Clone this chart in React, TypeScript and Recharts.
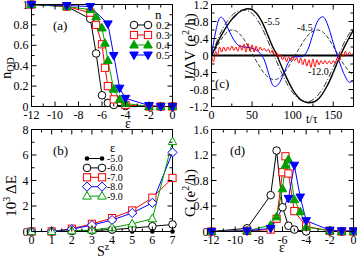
import React from "react";
import { LineChart, Line, XAxis, YAxis, ReferenceLine } from "recharts";

const SERIF = "'Liberation Serif', 'Times New Roman', serif";
const RED = "#ff0000";
const GREEN = "#00a000";
const BLUE = "#0000ff";

// ---- panels (a) and (d): x = epsilon ----
const blackEps = [-12, -9, -7, -6.5, -6, -5.5, -5, -4, -2, -1, 0];
const blackOcc = [1, 0.98, 0.86, 0.52, 0.11, 0.035, 0.015, 0.005, 0, 0, 0];
const blackG = [0, 0.05, 0.57, 1.27, 0.38, 0.09, 0.03, 0, 0, 0, 0];

const redEps = [-12, -9, -7, -6.5, -6, -5.75, -5.5, -5, -4, -2, -1, 0];
const redOcc = [1, 0.98, 0.92, 0.8, 0.61, 0.38, 0.2, 0.07, 0.015, 0, 0, 0];
const redG = [0, 0.01, 0.03, 0.2, 0.93, 1.18, 0.91, 0.32, 0.08, 0.01, 0, 0];

const greenEps = [-12, -9, -7, -6.5, -6, -5.75, -5.5, -5, -4.5, -4, -2, -1, 0];
const greenOcc = [1, 0.98, 0.95, 0.88, 0.77, 0.62, 0.45, 0.17, 0.07, 0.03, 0, 0, 0];
const greenG = [0, 0.01, 0.1, 0.23, 0.67, 1.04, 1.13, 0.5, 0.31, 0.07, 0.01, 0, 0];

const blueEps = [-12, -9, -7, -5.5, -5, -4.5, -4, -2, -1, 0];
const blueOcc = [1, 0.99, 0.98, 0.81, 0.5, 0.18, 0.08, 0.01, 0, 0];
const blueG = [0, 0.01, 0.05, 0.52, 1.04, 0.54, 0.17, 0.02, 0.01, 0.01];

const fillings = ["0.2", "0.3", "0.4", "0.5"];

// ---- panel (b): 10^3 dE vs S^z ----
const sz = [0, 1, 2, 3, 4, 5, 6, 7];
const dE50 = [0, 0, 0, 0, 0, 0, 0, 0];
const dE60 = [0, 0, 0.03, 0.08, 0.15, 0.26, 0.41, 0.55];
const dE70 = [0, 0, 0.22, 0.6, 1.05, 1.65, 2.65, 4.2];
const dE80 = [0, 0, 0.18, 0.5, 0.9, 1.45, 2.25, 6.2];
const dE90 = [0, 0, 0.05, 0.12, 0.3, 0.6, 1.0, 7.05];
const levels = ["-5.0", "-6.0", "-7.0", "-8.0", "-9.0"];

// ---- panel (c): J/dV vs t/tau ----
const cTime = [0, 5, 10, 15, 20, 25, 30, 35, 40, 45, 50, 55, 60, 65, 70, 75, 80, 85, 90, 95, 100, 105, 110, 115, 120, 125, 130, 135, 140, 145, 150, 155, 160, 165, 170, 175];
const cSolid = [0, 0.2, 0.4, 0.57, 0.72, 0.85, 0.95, 1.03, 1.08, 1.1, 1.08, 1.0, 0.87, 0.68, 0.45, 0.22, 0.03, -0.2, -0.42, -0.62, -0.8, -0.94, -1.04, -1.09, -1.11, -1.1, -1.05, -0.95, -0.8, -0.62, -0.4, -0.17, 0.05, 0.25, 0.43, 0.6];
const cDashDot = [0, 0.25, 0.48, 0.67, 0.82, 0.94, 1.02, 1.06, 1.07, 1.05, 0.99, 0.88, 0.73, 0.54, 0.32, 0.1, -0.13, -0.35, -0.55, -0.73, -0.87, -0.98, -1.05, -1.08, -1.08, -1.04, -0.96, -0.84, -0.68, -0.49, -0.28, -0.06, 0.16, 0.36, 0.52, 0.66];
const cDashed = [0, 0.15, 0.32, 0.46, 0.56, 0.6, 0.58, 0.5, 0.38, 0.22, 0.05, -0.12, -0.28, -0.42, -0.51, -0.56, -0.56, -0.5, -0.4, -0.26, -0.1, 0.07, 0.23, 0.38, 0.5, 0.57, 0.6, 0.58, 0.5, 0.38, 0.22, 0.05, -0.12, -0.26, -0.38, -0.45];

const blueTime = [0, 5, 10, 12, 15, 20, 25, 30, 35, 40, 45, 50, 55, 60, 65, 70, 75, 78, 80, 85, 90, 95, 100, 105, 110, 115, 120, 125, 130, 135, 137, 140, 145, 150, 155, 160, 165, 170, 175];
const blueJ = [0, 0.55, 0.88, 0.9, 0.85, 0.65, 0.45, 0.3, 0.22, 0.2, 0.19, 0.17, 0.13, 0.05, -0.1, -0.4, -0.68, -0.73, -0.72, -0.6, -0.38, -0.15, -0.04, -0.03, -0.03, 0.02, 0.2, 0.5, 0.78, 0.9, 0.91, 0.86, 0.62, 0.3, 0, -0.28, -0.5, -0.63, -0.58];

const redTime = [0, 2.5, 5, 7.5, 10, 12.5, 15, 17.5, 20, 22.5, 25, 27.5, 30, 32.5, 35, 37.5, 40, 42.5, 45, 47.5, 50, 52.5, 55, 57.5, 60, 62.5, 65, 67.5, 70, 72.5, 75, 77.5, 80, 82.5, 85, 87.5, 90, 92.5, 95, 97.5, 100, 102.5, 105, 107.5, 110, 112.5, 115, 117.5, 120, 122.5, 125, 127.5, 130, 132.5, 135, 137.5, 140, 142.5, 145, 147.5, 150, 152.5, 155, 157.5, 160, 162.5, 165, 167.5, 170, 172.5, 175];
const redJ = [0, -0.15, 0.1, 0, 0.2, 0.08, 0.2, 0.1, 0.2, 0.12, 0.22, 0.12, 0.2, 0.1, 0.25, 0.12, 0.27, 0.08, 0.28, 0.1, 0.25, 0.08, 0.22, 0.1, 0.2, 0.12, 0.17, 0.1, 0.15, 0.06, 0.12, 0.02, 0.08, -0.05, 0.02, -0.1, -0.02, -0.15, -0.03, -0.12, -0.02, -0.12, -0.05, -0.18, -0.06, -0.22, -0.08, -0.25, -0.1, -0.28, -0.08, -0.27, -0.1, -0.22, -0.12, -0.2, -0.12, -0.2, -0.13, -0.2, -0.12, -0.18, -0.05, -0.12, 0.05, -0.02, 0.1, 0, 0.08, 0.02, 0.06];

const rows = (xs: number[], ys: number[]) => xs.map((x, i) => ({ x, y: ys[i] }));

type Box = { l: number; r: number; t: number; b: number };
const W = 357;
const H = 259;
const boxA: Box = { l: 31.5, r: 172.5, t: 4.5, b: 106.5 };
const boxC: Box = { l: 211.5, r: 353.5, t: 4.5, b: 106.5 };
const boxB: Box = { l: 31.5, r: 172.5, t: 129.5, b: 231.5 };
const boxD: Box = { l: 211.5, r: 353.5, t: 129.5, b: 231.5 };

function Mark({ cx, cy, shape, color }: { cx: number; cy: number; shape: string; color: string }) {
  if (cx == null || cy == null) return null;
  if (shape === "circle") return <circle cx={cx} cy={cy} r={3.8} fill="#fff" stroke={color} />;
  if (shape === "dot") return <circle cx={cx} cy={cy} r={2.3} fill={color} />;
  if (shape === "square")
    return <rect x={cx - 3.6} y={cy - 3.6} width={7.2} height={7.2} fill="#fff" stroke={color} />;
  if (shape === "diamond")
    return (
      <polygon
        points={`${cx},${cy - 4.6} ${cx + 4.6},${cy} ${cx},${cy + 4.6} ${cx - 4.6},${cy}`}
        fill="#fff"
        stroke={color}
      />
    );
  if (shape === "down")
    return (
      <polygon points={`${cx},${cy + 4.6} ${cx + 4.3},${cy - 3} ${cx - 4.3},${cy - 3}`} fill={color} stroke={color} />
    );
  const open = shape === "upOpen";
  return (
    <polygon
      points={`${cx},${cy - 4.6} ${cx + 4.3},${cy + 3} ${cx - 4.3},${cy + 3}`}
      fill={open ? "#fff" : color}
      stroke={color}
    />
  );
}

const dotOf = (shape: string, color: string) => (p: any) =>
  <Mark key={p.index} cx={p.cx} cy={p.cy} shape={shape} color={color} />;

function tickFn(side: string, major: number[]) {
  return (p: any) => {
    const v = p.payload.value;
    const isMajor = major.includes(v);
    const len = isMajor ? 5 : 3;
    const { x, y } = p;
    if (side === "bottom")
      return (
        <g>
          <line x1={x} x2={x} y1={y} y2={y - len} stroke="#000" />
          {isMajor && (
            <text x={x} y={y + 12.5} textAnchor="middle" fontSize={12} fontFamily={SERIF} fill="#000">
              {String(v)}
            </text>
          )}
        </g>
      );
    if (side === "top") return <line x1={x} x2={x} y1={y} y2={y + len} stroke="#000" />;
    if (side === "left")
      return (
        <g>
          <line x1={x} x2={x + len} y1={y} y2={y} stroke="#000" />
          {isMajor && (
            <text x={x - 3} y={y + 4} textAnchor="end" fontSize={12} fontFamily={SERIF} fill="#000">
              {String(v)}
            </text>
          )}
        </g>
      );
    return <line x1={x} x2={x - len} y1={y} y2={y} stroke="#000" />;
  };
}

// axes have a 1px box (a zero-sized axis is not drawn)
function frame(xDom: number[], xMajor: number[], xMinor: number[], yDom: number[], yMajor: number[], yMinor: number[]) {
  const xt = [...xMajor, ...xMinor];
  const yt = [...yMajor, ...yMinor];
  const common = { type: "number" as const, interval: 0, tickSize: 0, tickMargin: 0, tickLine: false, axisLine: { stroke: "#000" } };
  return [
    <XAxis key="xb" {...common} dataKey="x" domain={xDom} ticks={xt} height={1} tick={tickFn("bottom", xMajor)} />,
    <XAxis key="xt" {...common} xAxisId="top" orientation="top" dataKey="x" domain={xDom} allowDataOverflow ticks={xt} height={1} tick={tickFn("top", xMajor)} />,
    <YAxis key="yl" {...common} domain={yDom} ticks={yt} width={1} tick={tickFn("left", yMajor)} />,
    <YAxis key="yr" {...common} yAxisId="right" orientation="right" domain={yDom} allowDataOverflow ticks={yt} width={1} tick={tickFn("right", yMajor)} />,
  ];
}

function Chart({ box, children }: { box: Box; children: React.ReactNode }) {
  return (
    <div style={{ position: "absolute", left: 0, top: 0 }}>
      <LineChart
        width={W}
        height={H}
        margin={{ left: box.l - 1, top: box.t - 1, right: W - box.r - 1, bottom: H - box.b - 1 }}
      >
        {children}
      </LineChart>
    </div>
  );
}

const epsMajor = [-12, -10, -8, -6, -4, -2, 0];
const epsMinor = [-11, -9, -7, -5, -3, -1];

function line(key: string, data: { x: number; y: number }[], color: string, shape: string) {
  return (
    <Line
      key={key}
      data={data}
      dataKey="y"
      type="linear"
      stroke={color}
      strokeWidth={1}
      dot={dotOf(shape, color)}
      activeDot={false}
      isAnimationActive={false}
    />
  );
}

export default function App() {
  const cRows = cTime.map((x, i) => ({ x, s: cSolid[i], dd: cDashDot[i], ds: cDashed[i] }));
  const legendA = [
    { c: "#000", s: "circle" },
    { c: RED, s: "square" },
    { c: GREEN, s: "up" },
    { c: BLUE, s: "down" },
  ];
  const legendB = [
    { c: "#000", s: "dot" },
    { c: "#000", s: "circle" },
    { c: RED, s: "square" },
    { c: BLUE, s: "diamond" },
    { c: GREEN, s: "upOpen" },
  ];
  return (
    <div style={{ position: "absolute", left: 0, top: 0, width: W, height: H, background: "#fff", fontFamily: SERIF }}>
      {/* (a) */}
      <Chart box={boxA}>
        {frame([-12, 0], epsMajor, epsMinor, [0, 1], [0, 0.2, 0.4, 0.6, 0.8, 1], [0.1, 0.3, 0.5, 0.7, 0.9])}
        {line("a0", rows(blackEps, blackOcc), "#000", "circle")}
        {line("a1", rows(redEps, redOcc), RED, "square")}
        {line("a2", rows(greenEps, greenOcc), GREEN, "up")}
        {line("a3", rows(blueEps, blueOcc), BLUE, "down")}
      </Chart>

      {/* (c) */}
      <Chart box={boxC}>
        {frame([0, 175], [0, 50, 100, 150], [25, 75, 125, 175], [-1.2, 1.2], [-1.2, -0.8, -0.4, 0, 0.4, 0.8, 1.2], [-1, -0.6, -0.2, 0.2, 0.6, 1])}
        <ReferenceLine y={0} stroke="#000" strokeWidth={2} />
        <Line data={cRows} dataKey="ds" type="monotone" stroke="#333" strokeWidth={1} strokeDasharray="4 2" dot={false} activeDot={false} isAnimationActive={false} />
        <Line data={cRows} dataKey="dd" type="monotone" stroke="#333" strokeWidth={1} strokeDasharray="6 2 1 2" dot={false} activeDot={false} isAnimationActive={false} />
        <Line data={cRows} dataKey="s" type="monotone" stroke="#000" strokeWidth={1.4} dot={false} activeDot={false} isAnimationActive={false} />
        <Line data={rows(blueTime, blueJ)} dataKey="y" type="monotone" stroke={BLUE} strokeWidth={1} dot={false} activeDot={false} isAnimationActive={false} />
        <Line data={rows(redTime, redJ)} dataKey="y" type="monotone" stroke={RED} strokeWidth={1} dot={false} activeDot={false} isAnimationActive={false} />
      </Chart>

      {/* (b) */}
      <Chart box={boxB}>
        {frame([0, 7], sz, [0.5, 1.5, 2.5, 3.5, 4.5, 5.5, 6.5], [0, 8], [0, 2, 4, 6, 8], [1, 3, 5, 7])}
        {line("b0", rows(sz, dE50), "#000", "dot")}
        {line("b1", rows(sz, dE60), "#000", "circle")}
        {line("b2", rows(sz, dE70), RED, "square")}
        {line("b3", rows(sz, dE80), BLUE, "diamond")}
        {line("b4", rows(sz, dE90), GREEN, "upOpen")}
      </Chart>

      {/* (d) */}
      <Chart box={boxD}>
        {frame([-12, 0], epsMajor, epsMinor, [0, 1.6], [0, 0.4, 0.8, 1.2, 1.6], [0.2, 0.6, 1, 1.4])}
        {line("d0", rows(blackEps, blackG), "#000", "circle")}
        {line("d1", rows(redEps, redG), RED, "square")}
        {line("d2", rows(greenEps, greenG), GREEN, "up")}
        {line("d3", rows(blueEps, blueG), BLUE, "down")}
      </Chart>

      <svg width={W} height={H} style={{ position: "absolute", left: 0, top: 0, pointerEvents: "none" }} fontFamily={SERIF} fill="#000">
        <text x={53} y={30} fontSize={13}>(a)</text>
        <text x={53} y={155} fontSize={13}>(b)</text>
        <text x={215} y={88} fontSize={13}>(c)</text>
        <text x={230} y={155} fontSize={13}>(d)</text>

        {/* legend (a) */}
        <text x={155} y={19} fontSize={13}>n</text>
        {legendA.map((e, i) => {
          const y = 25 + 10 * i;
          return (
            <g key={i}>
              <line x1={134} x2={148} y1={y} y2={y} stroke={e.c} />
              <Mark cx={134} cy={y} shape={e.s} color={e.c} />
              <Mark cx={148} cy={y} shape={e.s} color={e.c} />
              <text x={156} y={y + 3.8} fontSize={11}>{fillings[i]}</text>
            </g>
          );
        })}

        {/* legend (b) */}
        <text x={110} y={152} fontSize={13}>ε</text>
        {legendB.map((e, i) => {
          const y = 158.5 + 9.4 * i;
          return (
            <g key={i}>
              <line x1={87} x2={102} y1={y} y2={y} stroke={e.c} />
              <Mark cx={87} cy={y} shape={e.s} color={e.c} />
              <Mark cx={102} cy={y} shape={e.s} color={e.c} />
              <text x={107} y={y + 3.5} fontSize={10}>{levels[i]}</text>
            </g>
          );
        })}

        {/* axis titles */}
        <text transform="translate(11,68) rotate(-90)" textAnchor="middle" fontSize={14}>
          n<tspan fontSize={10} dy={3}>QD</tspan>
        </text>
        <text x={128} y={128} textAnchor="middle" fontSize={14}>ε</text>
        <text transform="translate(194.5,47) rotate(-90)" textAnchor="middle" fontSize={15}>
          J/ΔV (e<tspan fontSize={10} dy={-6}>2</tspan><tspan dy={6}>/h)</tspan>
        </text>
        <text x={306} y={123} fontSize={12}>t/τ</text>
        <text transform="translate(16,196) rotate(-90)" textAnchor="middle" fontSize={15}>
          10<tspan fontSize={10} dy={-6}>3</tspan><tspan dy={6}> ΔE</tspan>
        </text>
        <text x={97} y={256} fontSize={14}>
          S<tspan fontSize={10} dy={-6}>z</tspan>
        </text>
        <text transform="translate(194.5,193) rotate(-90)" textAnchor="middle" fontSize={15}>
          G (e<tspan fontSize={10} dy={-6}>2</tspan><tspan dy={6}>/h)</tspan>
        </text>
        <text x={282} y={252} textAnchor="middle" fontSize={14}>ε</text>

        {/* curve labels (c) */}
        <text x={264} y={25} fontSize={10}>-5.5</text>
        <text x={297} y={31} fontSize={10}>-4.5</text>
        <text x={308} y={75} fontSize={10}>-12.0</text>
      </svg>
    </div>
  );
}
